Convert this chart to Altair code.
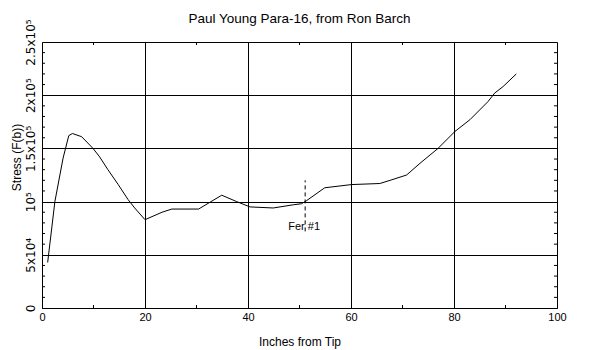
import altair as alt
import pandas as pd

# Curve data
inches = [1.1, 2.5, 4.1, 5.2, 5.9, 7.7, 9.9, 11.2, 12.8, 14.8, 16.7, 18.0, 20.0,
          23.3, 25.2, 30.4, 34.9, 37.8, 40.4, 44.9, 48.8, 50.4, 51.4, 54.9, 60.1,
          65.6, 67.6, 70.8, 73.4, 76.9, 80.2, 83.1, 86.6, 87.9, 89.5, 92.1]
stress = [42800, 100000, 141000, 162000, 164000, 161000, 150000, 142000, 130000,
          116000, 102000, 94000, 83000, 90000, 93000, 93000, 106000, 100000, 95000,
          94000, 97000, 98000, 101000, 113000, 116000, 117000, 120000, 125000,
          136000, 150000, 166000, 177000, 194000, 202000, 208000, 220000]

# Annotation
fer_x = [51.1]
fer_y_low = [72000]
fer_y_high = [120000]
fer_label = ["Fer #1"]
fer_label_y = [76000]

# Axis ticks
x_major = [0, 20, 40, 60, 80, 100]
x_minor = [10, 30, 50, 70, 90]
y_major = [0, 50000, 100000, 150000, 200000, 250000]
y_major_labels = ["0", "5x10\u2074", "10\u2075", "1.5x10\u2075", "2x10\u2075", "2.5x10\u2075"]
y_minor = [v for v in range(10000, 250000, 10000) if v % 50000 != 0]

FONT = "Liberation Sans"
W, H = 515, 266

curve_df = pd.DataFrame({"x": inches, "y": stress})
fer_df = pd.DataFrame({"x": fer_x, "y": fer_y_low, "y2": fer_y_high,
                       "label": fer_label, "ly": fer_label_y})
xmin_df = pd.DataFrame({"x": x_minor})
ymin_df = pd.DataFrame({"y": y_minor})

label_expr = " : ".join(
    [f"datum.value == {v} ? '{l}'" for v, l in zip(y_major, y_major_labels)]
) + " : ''"

xscale = alt.Scale(domain=[0, 100], nice=False, zero=False)
yscale = alt.Scale(domain=[0, 250000], nice=False)

x_axis = alt.Axis(values=x_major, title="Inches from Tip", grid=True, gridColor="black",
                  gridOpacity=1, gridWidth=1, domainColor="black", ticks=False, tickSize=0,
                  labelFlush=False, labelOverlap=False,
                  labelFont=FONT, labelFontSize=11, labelColor="black", labelPadding=3,
                  titleFont=FONT, titleFontSize=12, titleFontWeight="normal",
                  titleColor="black", titleY=33, titleBaseline="middle")
y_axis = alt.Axis(values=y_major, title="Stress (F(b))", grid=True, gridColor="black",
                  gridOpacity=1, gridWidth=1, domainColor="black", ticks=False, tickSize=0,
                  labelFlush=False, labelOverlap=False,
                  labelExpr=label_expr, labelAngle=270, labelAlign="center",
                  labelBaseline="bottom", labelPadding=5,
                  labelFont="DejaVu Sans", labelFontSize=12, labelColor="black",
                  titleFont=FONT, titleFontSize=12, titleFontWeight="normal",
                  titleColor="black", titleAngle=270, titleX=-26, titleY=115,
                  titleAlign="center", titleBaseline="middle")

line = alt.Chart(curve_df).mark_line(color="black", strokeWidth=1).encode(
    x=alt.X("x:Q", scale=xscale, axis=x_axis),
    y=alt.Y("y:Q", scale=yscale, axis=y_axis),
)

dash = alt.Chart(fer_df).mark_rule(color="black", strokeWidth=1, strokeDash=[4, 3]).encode(
    x=alt.X("x:Q", scale=xscale), y=alt.Y("y:Q", scale=yscale), y2="y2:Q"
)
txt = alt.Chart(fer_df).mark_text(font=FONT, fontSize=11, color="black",
                                  baseline="middle", align="center", dx=-1).encode(
    x=alt.X("x:Q", scale=xscale), y=alt.Y("ly:Q", scale=yscale), text="label:N"
)

tick_len = 3
bot = alt.Chart(xmin_df).mark_rule(color="black").encode(
    x=alt.X("x:Q", scale=xscale), y=alt.value(H), y2=alt.value(H - tick_len))
top = alt.Chart(xmin_df).mark_rule(color="black").encode(
    x=alt.X("x:Q", scale=xscale), y=alt.value(0), y2=alt.value(tick_len))
left = alt.Chart(ymin_df).mark_rule(color="black").encode(
    y=alt.Y("y:Q", scale=yscale), x=alt.value(0), x2=alt.value(tick_len))
right = alt.Chart(ymin_df).mark_rule(color="black").encode(
    y=alt.Y("y:Q", scale=yscale), x=alt.value(W), x2=alt.value(W - tick_len))

chart = alt.layer(line, dash, txt, bot, top, left, right).properties(
    width=W, height=H,
    title=alt.TitleParams("Paul Young Para-16, from Ron Barch", font=FONT, fontSize=13.5,
                          fontWeight="normal", color="black", anchor="middle", offset=11,
                          dy=18),
    autosize=alt.AutoSizeParams(type="none"),
    padding={"left": 34, "top": 34, "right": 35, "bottom": 42},
).configure_view(stroke="black", strokeWidth=1).configure(background="white")

chart.save("out.html", embed_options={"renderer": "svg", "actions": False})
